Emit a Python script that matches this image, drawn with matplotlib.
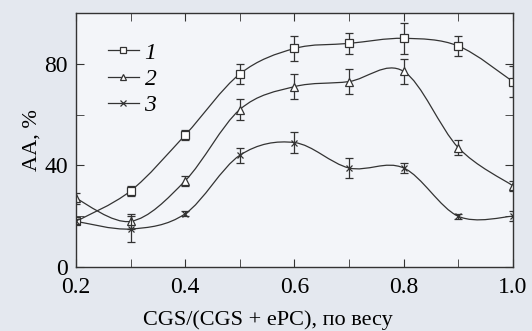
import numpy as np
import matplotlib.pyplot as plt
from matplotlib.path import Path
from matplotlib.patches import PathPatch
from matplotlib.ticker import MultipleLocator

plt.rcParams['font.family'] = ['Liberation Serif', 'DejaVu Serif']

x = [0.2, 0.3, 0.4, 0.5, 0.6, 0.7, 0.8, 0.9, 1.0]
s1 = [18, 30, 52, 76, 86, 88, 90, 87, 73]
e1 = [1, 2, 2, 4, 5, 4, 6, 4, 6]
s2 = [27, 18, 34, 62, 71, 73, 77, 47, 32]
e2 = [2, 3, 2, 4, 5, 5, 5, 3, 2]
s3 = [18, 15, 21, 44, 49, 39, 39, 20, 20]
e3 = [1, 5, 1, 3, 4, 4, 2, 1, 2]
labels = ['1', '2', '3']
markers = ['s', '^', 'x']


def smooth_path(xs, ys):
    # Catmull-Rom through the measured points, drawn as cubic Bezier segments
    xs = np.asarray(xs, float)
    ys = np.asarray(ys, float)
    pts = np.column_stack([xs, ys])
    verts = [pts[0]]
    codes = [Path.MOVETO]
    n = len(pts)
    for i in range(n - 1):
        p0 = pts[max(i - 1, 0)]
        p1 = pts[i]
        p2 = pts[i + 1]
        p3 = pts[min(i + 2, n - 1)]
        c1 = p1 + (p2 - p0) / 6
        c2 = p2 - (p3 - p1) / 6
        verts += [c1, c2, p2]
        codes += [Path.CURVE4] * 3
    return Path(verts, codes)


fig = plt.figure(figsize=(5.32, 3.31), dpi=100, facecolor='#e4e8ef')
ax = fig.add_axes([0.143, 0.193, 0.821, 0.768], facecolor='#f3f5f9')

for ys, es, m, lab in zip([s1, s2, s3], [e1, e2, e3], markers, labels):
    ax.add_patch(PathPatch(smooth_path(x, ys), fill=False, ec='#333333', lw=0.9))
    ax.errorbar(x, ys, yerr=es, fmt='none', ecolor='#333333', elinewidth=0.9,
                capsize=3, capthick=0.9)
    ax.plot(x, ys, ls='none', marker=m, ms=6 if m != 'x' else 5,
            mfc='white' if m != 'x' else '#333333', mec='#333333', mew=0.9)
    ax.plot([], [], color='#333333', lw=0.9, marker=m, ms=5,
            mfc='white', mec='#333333', mew=0.9, label=lab)

ax.set_xlim(0.2, 1.0)
ax.set_ylim(0, 100)
ax.xaxis.set_major_locator(MultipleLocator(0.2))
ax.xaxis.set_minor_locator(MultipleLocator(0.1))
ax.yaxis.set_major_locator(MultipleLocator(40))
ax.yaxis.set_minor_locator(MultipleLocator(20))
ax.set_xticks([0.2, 0.4, 0.6, 0.8, 1.0])
ax.set_xticklabels(['0.2', '0.4', '0.6', '0.8', '1.0'])
ax.tick_params(which='both', direction='in', top=True, right=True,
               labelsize=17, color='#333333')
ax.tick_params(which='major', length=6)
ax.tick_params(which='minor', length=6)
ax.tick_params(axis='x', which='both', pad=7)
ax.tick_params(axis='y', which='both', pad=6)
for sp in ax.spines.values():
    sp.set_color('#333333')
    sp.set_linewidth(1.0)

ax.set_xlabel('CGS/(CGS + ePC), по весу', fontsize=16, labelpad=1)
ax.xaxis.set_label_coords(0.44, -0.17)
ax.set_ylabel('AA, %', fontsize=16, labelpad=2)

leg = ax.legend(loc='upper left', bbox_to_anchor=(0.035, 0.95), frameon=False,
                fontsize=17, handlelength=1.3, handletextpad=0.25,
                labelspacing=0.2, borderpad=0.2)
for t in leg.get_texts():
    t.set_fontstyle('italic')

fig.savefig('out.png', dpi=100, facecolor=fig.get_facecolor())
